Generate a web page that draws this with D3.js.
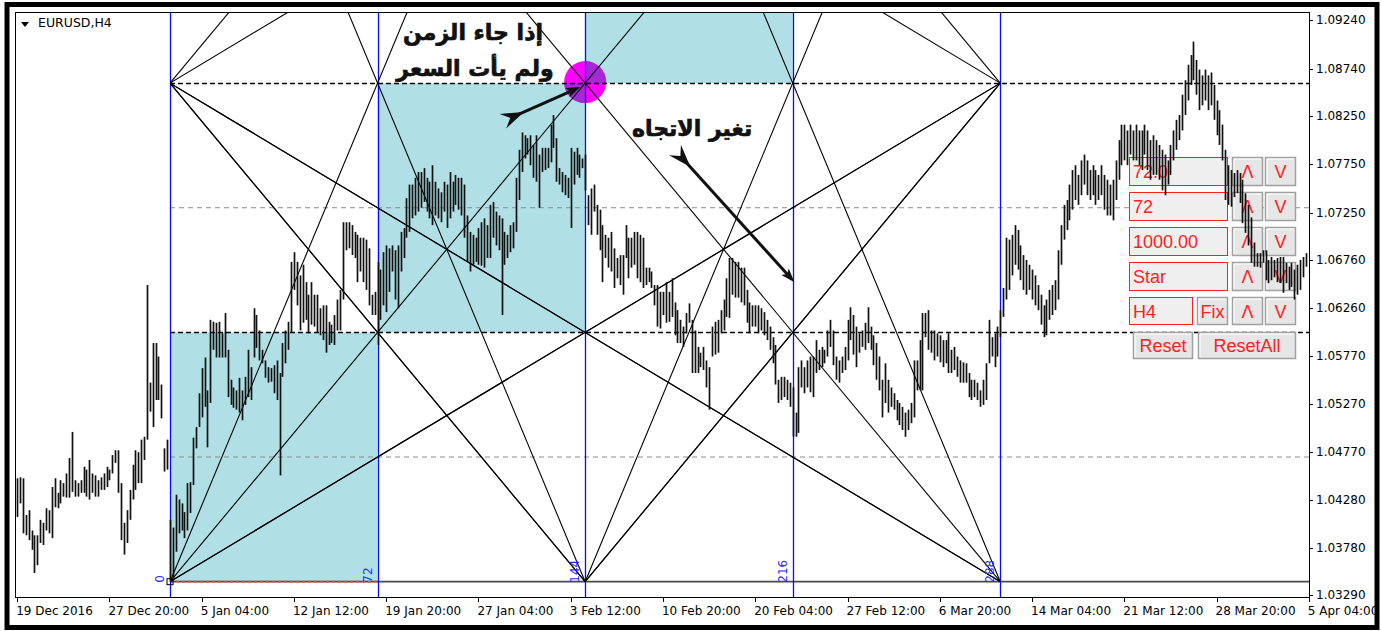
<!DOCTYPE html>
<html><head><meta charset="utf-8">
<script src="https://cdn.jsdelivr.net/npm/d3@7"></script>
<style>
html,body{margin:0;padding:0;background:#fff;}
svg{display:block;}
</style></head><body>
<svg id="c" width="1381" height="631"></svg>
<script>
// ================= DATA =================
const symbolLabel = "EURUSD,H4";
const firstBar = -53;               // bar index of the first visible H4 bar (Gann origin = bar 0)
// bar highs / lows in pips (price x 10000), bar -53 ... 394
const highs = [
10450,10451,10450,10412,10417,10396,10391,10391,10407,10404,
10419,10417,10441,10450,10435,10448,10445,10455,10471,10498,
10448,10445,10448,10462,10459,10469,10455,10453,10448,10451,
10455,10462,10459,10474,10479,10479,10445,10404,10417,10438,
10464,10479,10477,10490,10493,10650,10549,10590,10590,10576,
10547,10481,10490,10407,10399,10433,10428,10424,10415,10445,
10446,10492,10503,10538,10564,10575,10541,10614,10612,10611,
10612,10600,10621,10583,10552,10544,10541,10554,10541,10555,
10583,10565,10626,10619,10603,10583,10572,10565,10564,10567,
10572,10559,10590,10603,10612,10674,10684,10674,10660,10671,
10653,10640,10653,10640,10640,10626,10629,10629,10612,10609,
10619,10635,10645,10715,10715,10715,10712,10705,10702,10699,
10699,10697,10688,10640,10643,10674,10666,10684,10691,10688,
10691,10686,10691,10705,10709,10740,10754,10754,10761,10767,
10767,10771,10761,10757,10774,10757,10750,10746,10757,10754,
10767,10757,10764,10761,10761,10754,10722,10705,10702,10699,
10709,10715,10719,10712,10733,10736,10726,10722,10719,10705,
10702,10712,10715,10761,10790,10808,10805,10802,10805,10795,
10805,10785,10792,10792,10792,10816,10826,10802,10771,10767,
10764,10761,10792,10788,10792,10785,10781,10785,10743,10750,
10754,10733,10728,10712,10702,10699,10705,10688,10678,10681,
10681,10712,10699,10699,10705,10705,10702,10699,10668,10668,
10664,10650,10650,10643,10643,10653,10643,10657,10632,10624,
10614,10607,10621,10631,10614,10603,10586,10580,10586,10572,
10565,10607,10612,10614,10624,10635,10657,10678,10678,10674,
10674,10668,10668,10645,10632,10629,10629,10629,10626,10622,
10614,10607,10596,10588,10552,10555,10555,10552,10549,10544,
10518,10565,10572,10565,10572,10576,10576,10593,10583,10586,
10583,10603,10614,10603,10576,10572,10576,10586,10614,10627,
10619,10607,10600,10603,10611,10627,10607,10598,10590,10576,
10552,10569,10552,10544,10538,10531,10528,10524,10518,10521,
10528,10572,10572,10593,10621,10621,10624,10603,10603,10600,
10598,10593,10593,10600,10583,10586,10576,10572,10570,10569,
10559,10552,10552,10549,10541,10552,10569,10614,10596,10600,
10607,10624,10647,10699,10697,10702,10712,10707,10691,10681,
10676,10671,10666,10660,10650,10640,10629,10635,10645,10650,
10655,10686,10712,10733,10738,10754,10769,10774,10764,10779,
10785,10779,10769,10774,10769,10764,10774,10764,10759,10754,
10759,10779,10800,10816,10816,10810,10816,10810,10816,10810,
10810,10816,10810,10800,10805,10800,10795,10790,10785,10779,
10795,10810,10821,10826,10847,10862,10878,10888,10902,10883,
10873,10867,10873,10867,10870,10857,10841,10831,10816,10790,
10774,10769,10766,10769,10766,10759,10745,10733,10720,10694,
10683,10683,10686,10686,10676,10679,10676,10678,10679,10679,
10673,10669,10673,10666,10671,10676,10679,10683
];
const lows = [
10410,10424,10393,10391,10386,10376,10352,10360,10383,10381,
10396,10393,10388,10420,10419,10424,10431,10430,10430,10436,
10431,10431,10435,10435,10431,10428,10435,10431,10431,10438,
10438,10441,10448,10455,10466,10435,10386,10371,10383,10407,
10428,10438,10445,10445,10469,10490,10519,10503,10531,10531,
10512,10457,10459,10343,10347,10374,10393,10396,10388,10396,
10414,10443,10481,10503,10513,10524,10482,10528,10583,10575,
10575,10575,10575,10534,10526,10523,10521,10518,10510,10526,
10534,10531,10575,10585,10572,10569,10554,10549,10550,10538,
10531,10453,10555,10569,10583,10601,10645,10629,10603,10611,
10614,10600,10609,10607,10601,10598,10593,10580,10588,10590,
10588,10603,10603,10635,10686,10688,10681,10678,10653,10664,
10653,10645,10629,10619,10619,10588,10614,10629,10622,10643,
10664,10635,10626,10664,10678,10699,10705,10719,10722,10726,
10730,10736,10726,10719,10712,10722,10719,10715,10726,10709,
10719,10726,10733,10728,10722,10699,10674,10664,10671,10674,
10671,10670,10668,10678,10678,10699,10691,10686,10619,10671,
10678,10684,10688,10705,10738,10767,10781,10785,10774,10761,
10757,10730,10767,10769,10771,10777,10792,10757,10754,10746,
10743,10740,10709,10754,10764,10761,10771,10748,10712,10702,
10726,10702,10686,10653,10678,10668,10664,10647,10657,10650,
10640,10678,10657,10668,10671,10657,10653,10647,10650,10653,
10647,10629,10607,10605,10619,10611,10612,10617,10598,10590,
10590,10586,10600,10611,10559,10559,10559,10565,10562,10544,
10521,10576,10578,10580,10600,10603,10617,10616,10640,10637,
10637,10632,10629,10611,10600,10607,10607,10600,10603,10598,
10593,10583,10569,10547,10528,10531,10534,10531,10524,10493,
10493,10497,10544,10538,10544,10539,10534,10559,10562,10565,
10569,10576,10586,10567,10552,10549,10559,10562,10572,10593,
10578,10565,10580,10586,10583,10590,10583,10567,10552,10541,
10513,10528,10518,10524,10521,10510,10505,10500,10493,10500,
10507,10513,10541,10541,10541,10596,10583,10580,10572,10576,
10570,10565,10569,10559,10559,10562,10555,10549,10549,10549,
10534,10531,10534,10531,10524,10526,10531,10569,10576,10565,
10576,10596,10617,10635,10645,10660,10671,10666,10655,10645,
10640,10645,10635,10629,10624,10609,10596,10598,10614,10619,
10624,10635,10671,10697,10707,10717,10728,10738,10733,10743,
10754,10743,10738,10743,10733,10738,10743,10728,10722,10722,
10717,10738,10759,10774,10779,10774,10785,10779,10779,10774,
10769,10785,10769,10759,10764,10764,10759,10748,10743,10754,
10764,10779,10790,10800,10810,10826,10841,10857,10862,10847,
10831,10836,10841,10831,10836,10821,10805,10795,10779,10738,
10733,10731,10741,10745,10735,10714,10704,10691,10673,10669,
10669,10668,10673,10655,10652,10655,10658,10653,10652,10642,
10652,10645,10648,10635,10640,10645,10658,10669
];
const dateLabels = ["19 Dec 2016","27 Dec 20:00","5 Jan 04:00","12 Jan 12:00","19 Jan 20:00","27 Jan 04:00","3 Feb 12:00","10 Feb 20:00","20 Feb 04:00","27 Feb 12:00","6 Mar 20:00","14 Mar 04:00","21 Mar 12:00","28 Mar 20:00","5 Apr 04:00"];
const dateTickBars = [-53,-21,11,43,75,107,139,171,203,235,267,299,331,363,395];
const priceTicks = [1.09240,1.08740,1.08250,1.07750,1.07250,1.06760,1.06260,1.05770,1.05270,1.04770,1.04280,1.03780,1.03290];

// Gann grid
const gannOriginPrice = 1.0343;
const gannUnit = 0.0258;      // price per square
const gannPeriod = 72;        // bars per square
const gannMarks = [0,72,144,216,288];
const gannBoxes = [[0,0],[72,1],[144,2]];         // [start bar, level]
const gannRays = [                                 // [anchor bar, anchor level, direction, slope (levels/period)]
 [0,0,1,1],[0,0,1,2],[0,0,1,0.5],
 [144,0,-1,1],[144,0,-1,2],[144,0,1,1],[144,0,1,2],
 [288,0,-1,1],[288,0,-1,2],[288,0,-1,0.5],
 [0,2,1,1],[0,2,1,0.5],[0,2,1,-1],[0,2,1,-0.5],
 [288,2,-1,1],[288,2,-1,0.5],[288,2,-1,-1],[288,2,-1,-0.5]
];
const dashedLevels = [1,2];
const grayLevels = [0.5,1.5];

// annotations
const noteTexts = ["إذا جاء الزمن","ولم يأت السعر","تغير الاتجاه"];
const notePos = [[105.1,1.0911],[105.8,1.0874],[181.1,1.0812]];
const arrowFrom = [[115.8,1.0820],[175.4,1.0789]];
const arrowTo = [[142.3,1.0855],[216.6,1.0653]];
const circleAt = [144,1.0859];

// panel
const panelFields = ["72.0","72","1000.00","Star"];
const panelRow5 = ["H4","Fix"];
const panelButtons = ["Reset","ResetAll"];

// ================= DRAW =================
const svg = d3.select("#c");
const W=1381,H=631;
const P = {l:15, r:1309, t:12, b:597};
const x = d3.scaleLinear().domain([0,288]).range([170,1000.3]);
const y = d3.scaleLinear().domain([1.0329,1.0924]).range([595.2,20.3]);
const lvl = l => gannOriginPrice + l*gannUnit;

svg.append("rect").attr("width",W).attr("height",H).attr("fill","#fff");

const defs = svg.append("defs");
defs.append("clipPath").attr("id","plotClip").append("rect")
  .attr("x",P.l).attr("y",P.t).attr("width",P.r-P.l).attr("height",P.b-P.t);
defs.append("clipPath").attr("id","gannClip").append("rect")
  .attr("x",x(0)).attr("y",P.t).attr("width",x(288)-x(0)).attr("height",y(lvl(0))-P.t);
defs.append("clipPath").attr("id","circClip").append("circle")
  .attr("cx",x(circleAt[0])).attr("cy",y(circleAt[1])-1).attr("r",21);

const g = svg.append("g").attr("clip-path","url(#plotClip)");

// teal boxes
g.selectAll(".box").data(gannBoxes).enter().append("rect")
  .attr("x",d=>x(d[0])).attr("width",d=>x(d[0]+gannPeriod)-x(d[0]))
  .attr("y",d=>y(lvl(d[1]+1))).attr("height",d=>y(lvl(d[1]))-y(lvl(d[1]+1)))
  .attr("fill","#b0e0e6");

// magenta circle
g.append("circle").attr("cx",x(circleAt[0])).attr("cy",y(circleAt[1])-1).attr("r",21).attr("fill","#ff00ff");
g.append("g").attr("clip-path","url(#circClip)").selectAll("rect").data(gannBoxes).enter().append("rect")
  .attr("x",d=>x(d[0])).attr("width",d=>x(d[0]+gannPeriod)-x(d[0]))
  .attr("y",d=>y(lvl(d[1]+1))).attr("height",d=>y(lvl(d[1]))-y(lvl(d[1]+1)))
  .attr("fill","#a52ad6");

// horizontal levels
g.selectAll(".gl").data(grayLevels).enter().append("line")
  .attr("x1",x(0)).attr("x2",P.r).attr("y1",d=>y(lvl(d))).attr("y2",d=>y(lvl(d)))
  .attr("stroke","#8c8c8c").attr("stroke-dasharray","5,4").attr("stroke-width",1);
g.selectAll(".dl").data(dashedLevels).enter().append("line")
  .attr("x1",x(0)).attr("x2",P.r).attr("y1",d=>Math.round(y(lvl(d)))+0.5).attr("y2",d=>Math.round(y(lvl(d)))+0.5)
  .attr("stroke","#000").attr("stroke-dasharray","5,3").attr("stroke-width",1.3);
g.append("line").attr("x1",x(0)).attr("x2",P.r).attr("y1",y(lvl(0))).attr("y2",y(lvl(0)))
  .attr("stroke","#4a4a4a").attr("stroke-width",1.7);
g.append("line").attr("x1",x(0)).attr("x2",x(72)).attr("y1",y(lvl(0))).attr("y2",y(lvl(0)))
  .attr("stroke","#ff3b3b").attr("stroke-dasharray","3,3").attr("stroke-width",1.7);

// blue verticals
g.selectAll(".vl").data(gannMarks).enter().append("line")
  .attr("x1",d=>Math.round(x(d))+0.5).attr("x2",d=>Math.round(x(d))+0.5).attr("y1",P.t).attr("y2",P.b)
  .attr("stroke","#0a0aff").attr("stroke-width",1.3);

// gann rays
const rg = g.append("g").attr("clip-path","url(#gannClip)");
rg.selectAll("line").data(gannRays).enter().append("line")
  .attr("x1",d=>x(d[0])).attr("y1",d=>y(lvl(d[1])))
  .attr("x2",d=>x(d[2]>0?288:0))
  .attr("y2",d=>{const dist=Math.abs((d[2]>0?288:0)-d[0])/gannPeriod; return y(lvl(d[1]+d[3]*dist));})
  .attr("stroke","#000").attr("stroke-width",1.1);

// origin marker
g.append("rect").attr("x",x(0)-3).attr("y",y(lvl(0))-3).attr("width",6).attr("height",6)
  .attr("fill","none").attr("stroke","#000").attr("stroke-width",1);

// gann labels
g.selectAll(".gm").data(gannMarks).enter().append("text")
  .attr("transform",d=>`translate(${x(d)-6},${y(lvl(0))+1}) rotate(-90)`)
  .attr("font-family","DejaVu Sans").attr("font-size",12).attr("fill","#2a2aff")
  .text(d=>d);

// panel (drawn beneath bars)
const pn = svg.append("g").attr("font-family","Liberation Sans, Arial").attr("font-size",18).attr("fill","#ff0000");
function field(xx,yy,w,h,t){
  pn.append("rect").attr("x",xx+0.5).attr("y",yy+0.5).attr("width",w).attr("height",h).attr("fill","#efefef").attr("stroke","#ff2020");
  pn.append("text").attr("x",xx+4).attr("y",yy+h/2+1).attr("dominant-baseline","central").attr("fill","#ff2020").text(t);
}
function button(xx,yy,w,h,t){
  pn.append("rect").attr("x",xx+0.5).attr("y",yy+0.5).attr("width",w).attr("height",h).attr("fill","#e6e6e6").attr("stroke","#a0a0a0").attr("stroke-width",1.5);
  pn.append("path").attr("d",`M${xx+2},${yy+h-1}V${yy+2}H${xx+w-1}`).attr("fill","none").attr("stroke","#ffffff").attr("stroke-width",1);
  pn.append("text").attr("x",xx+w/2+0.5).attr("y",yy+h/2+1).attr("text-anchor","middle").attr("dominant-baseline","central").attr("fill","#ff2020").text(t);
}
const rowY=[157,192,227,262];
panelFields.forEach((t,i)=>{field(1129,rowY[i],98,28,t);button(1232,rowY[i],30,28,"Λ");button(1265,rowY[i],30,28,"V");});
field(1129,297,63,27,panelRow5[0]); button(1197,297,30,27,panelRow5[1]); button(1232,297,30,27,"Λ"); button(1265,297,30,27,"V");
button(1133,332,59,26,panelButtons[0]); button(1198,332,97,26,panelButtons[1]);

// bars
const bars = highs.map((h,i)=>({bar:firstBar+i,hi:h/10000,lo:lows[i]/10000}));
svg.append("g").attr("clip-path","url(#plotClip)").selectAll("line").data(bars).enter().append("line")
  .attr("x1",d=>Math.round(x(d.bar))+0.5).attr("x2",d=>Math.round(x(d.bar))+0.5)
  .attr("y1",d=>y(d.hi)).attr("y2",d=>y(d.lo))
  .attr("stroke","#111").attr("stroke-width",1.7);

// arrows
function arrow(a,b){
  const x1=x(a[0]),y1=y(a[1]),x2=x(b[0]),y2=y(b[1]);
  const L=Math.hypot(x2-x1,y2-y1),ux=(x2-x1)/L,uy=(y2-y1)/L,nx=-uy,ny=ux;
  const ag=svg.append("g").attr("fill","#111");
  ag.append("line").attr("x1",x1+8*ux).attr("y1",y1+8*uy).attr("x2",x2-10*ux).attr("y2",y2-10*uy)
    .attr("stroke","#111").attr("stroke-width",3);
  ag.append("path").attr("d",`M${x2},${y2}L${x2-14*ux+5*nx},${y2-14*uy+5*ny}L${x2-11*ux},${y2-11*uy}L${x2-14*ux-5*nx},${y2-14*uy-5*ny}Z`);
  ag.append("path").attr("d",`M${x1+22*ux},${y1+22*uy}L${x1-1*ux+8*nx},${y1-1*uy+8*ny}L${x1+7*ux},${y1+7*uy}L${x1-1*ux-8*nx},${y1-1*uy-8*ny}Z`);
}
arrowFrom.forEach((a,i)=>arrow(a,arrowTo[i]));

// arabic notes
svg.selectAll(".note").data(noteTexts).enter().append("text")
  .attr("x",(d,i)=>x(notePos[i][0])).attr("y",(d,i)=>y(notePos[i][1]))
  .attr("text-anchor","middle").attr("dominant-baseline","central")
  .attr("font-family","DejaVu Sans").attr("font-weight","bold").attr("font-size",22).attr("fill","#111")
  .attr("stroke","#111").attr("stroke-width",0.7)
  .attr("direction","rtl")
  .text(d=>d);

// plot frame
svg.append("rect").attr("x",P.l+0.5).attr("y",P.t+0.5).attr("width",P.r-P.l).attr("height",P.b-P.t)
  .attr("fill","none").attr("stroke","#000").attr("stroke-width",1);

// price axis
const pa = svg.append("g").attr("font-family","DejaVu Sans").attr("font-size",12).attr("fill","#000");
pa.selectAll("line").data(priceTicks).enter().append("line")
  .attr("x1",P.r).attr("x2",P.r+4).attr("y1",d=>Math.round(y(d))+0.5).attr("y2",d=>Math.round(y(d))+0.5).attr("stroke","#000");
pa.selectAll("text").data(priceTicks).enter().append("text")
  .attr("x",P.r+7).attr("y",d=>y(d)).attr("dominant-baseline","central").text(d=>d3.format(".5f")(d));

// date axis
const da = svg.append("g").attr("font-family","DejaVu Sans").attr("font-size",12).attr("fill","#000");
da.selectAll("line").data(dateTickBars).enter().append("line")
  .attr("x1",d=>Math.round(x(d))+0.5).attr("x2",d=>Math.round(x(d))+0.5).attr("y1",P.b).attr("y2",P.b+5).attr("stroke","#000");
da.selectAll("text").data(dateLabels).enter().append("text")
  .attr("x",(d,i)=>x(dateTickBars[i])-1).attr("y",P.b+18).text(d=>d);

// symbol label
svg.append("path").attr("d","M21,22L29,22L25,27Z").attr("fill","#000");
svg.append("text").attr("x",38).attr("y",27).attr("font-family","DejaVu Sans").attr("font-size",12.5).attr("fill","#000").text(symbolLabel);

// outer frame
svg.append("rect").attr("x",7).attr("y",4.5).attr("width",1370).attr("height",623)
  .attr("fill","none").attr("stroke","#000").attr("stroke-width",5);
</script>
</body></html>
